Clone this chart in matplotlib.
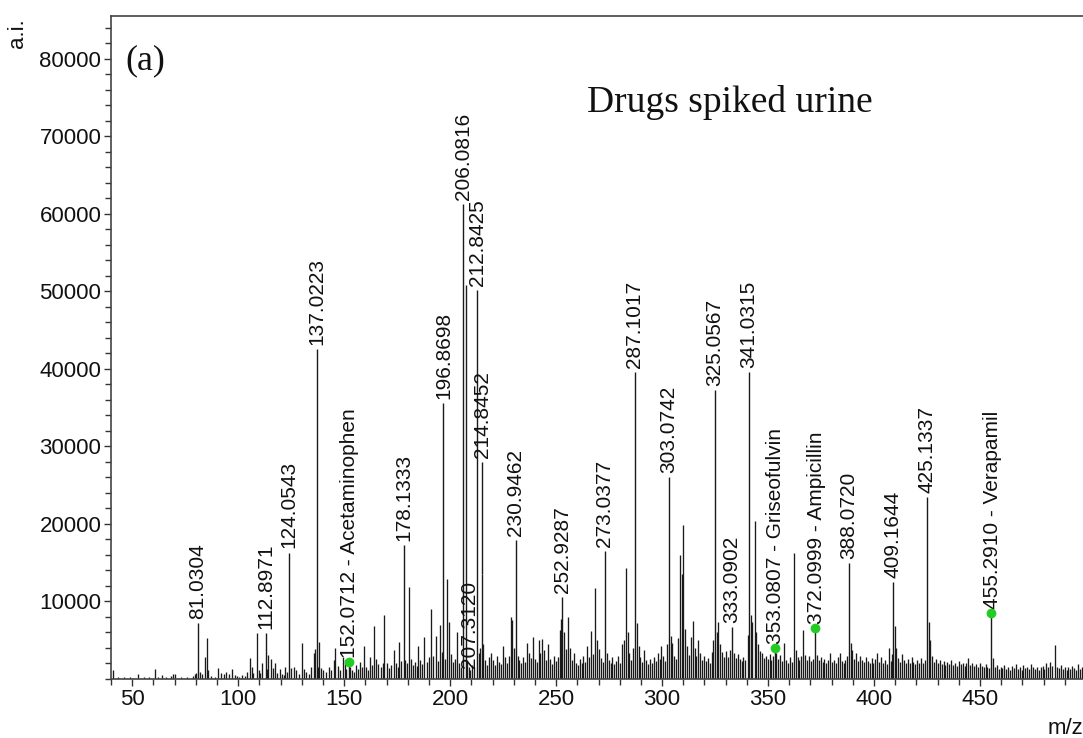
import matplotlib.pyplot as plt
from matplotlib.ticker import MultipleLocator

# labelled peaks (m/z, intensity in a.i.)
peak_mz = [81.0304, 112.8971, 124.0543, 137.0223, 178.1333, 196.8698, 206.0816,
           212.8425, 230.9462, 252.9287, 273.0377, 287.1017, 303.0742, 325.0567,
           333.0902, 341.0315, 388.0720, 409.1644, 425.1337]
peak_int = [7200, 5900, 16300, 42500, 17300, 35600, 61200,
            50200, 17900, 10600, 16500, 39600, 26000, 37300,
            6700, 39600, 15000, 12500, 23500]

# peaks whose label is placed away from the peak top
offset_mz = [207.3120, 214.8452]
offset_int = [50800, 13500]
offset_label_at = [1400, 28000]

# identified drugs (green dots)
drug_mz = [152.0712, 353.0807, 372.0999, 455.2910]
drug_int = [2200, 4000, 6600, 8500]
drug_names = ['Acetaminophen', 'Griseofulvin', 'Ampicillin', 'Verapamil']

# unlabelled peaks
minor_mz = [
    40.8, 43.5, 46.0, 49.0, 52.8, 55.5, 58.0, 60.6, 62.0, 64.2, 66.0, 68.4, 69.3, 70.2, 73.0, 76.0, 78.5, 79.6,
    80.3, 82.0, 83.0, 84.3, 85.1, 85.6, 87.0, 89.0, 90.6, 91.7, 93.2, 94.4, 95.6, 97.1, 98.3, 99.4,
    100.5, 101.8, 103.0, 104.2, 105.6, 106.3, 107.2, 108.8, 109.7, 110.4, 111.3, 113.6, 114.3, 115.4,
    116.3, 117.4, 118.4, 119.5, 120.6, 121.4, 122.2, 123.1, 125.1, 126.2, 127.4, 128.5, 129.9, 131.1,
    132.1, 133.3, 134.5, 135.8, 136.4, 137.5, 138.1, 139.1, 140.1, 141.3, 142.7, 143.9, 145.1, 145.9,
    147.0, 148.2, 149.5, 150.3, 151.0,
    152.9, 153.8, 154.7, 155.6, 156.4, 157.4, 158.3, 159.5, 160.5, 161.4, 162.3, 163.2, 164.3, 165.2,
    166.1, 167.2, 168.1, 169.0, 170.0, 171.1, 172.0, 173.7, 174.5, 175.3, 176.1, 177.0, 178.8, 179.7,
    180.6, 181.5, 182.4, 183.3, 184.2, 185.0, 186.0, 186.8, 187.9, 189.0, 190.0, 191.2, 192.1, 193.5,
    194.4, 195.4, 196.2, 197.6, 198.7, 199.6, 200.6, 201.5, 202.4, 203.4, 204.3, 205.2,
    207.9, 208.8, 209.6, 210.5, 211.4, 213.6, 214.2, 215.6, 216.5, 217.4, 218.3, 219.2, 220.1, 221.0,
    222.3, 223.2, 224.1, 225.0, 225.9, 226.8, 227.6, 228.5, 229.4, 230.2, 231.8, 232.7, 233.5, 234.4,
    235.3, 236.2, 237.1, 238.0, 239.0, 239.9, 240.8, 241.7, 242.6, 243.5, 244.4, 245.3, 246.2, 247.1,
    248.0, 248.9, 249.8, 250.7, 251.6, 252.3,
    253.6, 254.5, 255.7, 256.6, 257.5, 258.4, 259.3, 260.2, 261.1, 262.0, 262.9, 263.8, 264.7, 265.6,
    266.6, 267.5, 268.5, 269.3, 270.2, 271.1, 272.0, 273.9, 274.8, 275.7, 276.6, 277.5, 278.4, 279.3,
    280.2, 281.1, 281.9, 282.8, 283.7, 284.6, 285.5, 286.4, 288.0, 288.9, 289.8, 290.7, 291.6, 292.5,
    293.4, 294.3, 295.2, 296.1, 297.0, 297.9, 298.8, 299.7,
    300.6, 301.5, 302.3, 304.0, 304.9, 305.8, 306.7, 307.6, 308.6, 309.5, 310.1, 310.9, 311.8, 312.7,
    313.6, 314.4, 315.3, 316.2, 317.1, 318.0, 318.9, 319.8, 320.7, 321.6, 322.5, 323.4, 324.2, 325.9,
    326.6, 327.5, 328.4, 329.3, 330.2, 331.1, 332.0, 333.9, 334.8, 335.7, 336.6, 337.5, 338.4, 339.3,
    340.3, 341.8, 342.5, 343.6, 344.4, 345.3, 346.2, 347.1, 348.0, 348.9, 349.8,
    350.7, 351.6, 352.4, 353.9, 354.8, 355.7, 356.6, 357.5, 358.4, 359.3, 360.2, 361.1, 362.1, 363.0,
    363.9, 364.8, 365.7, 366.7, 367.6, 368.5, 369.4, 370.3, 371.2, 373.0, 373.9, 374.8, 375.7, 376.6,
    377.5, 378.4, 379.3, 380.2, 381.1, 382.0, 382.9, 383.8, 384.7, 385.6, 386.5, 387.3, 388.9, 389.8,
    390.7, 391.6, 392.5, 393.4, 394.3, 395.2, 396.1, 397.0, 397.9, 398.8, 399.7,
    400.6, 401.5, 402.4, 403.3, 404.2, 405.1, 406.0, 406.9, 407.8, 408.5, 409.8, 410.5, 411.4, 412.3,
    413.2, 414.1, 415.0, 415.9, 416.8, 417.7, 418.6, 419.5, 420.4, 421.3, 422.2, 423.1, 424.0, 425.8,
    426.5, 427.4, 428.3, 429.2, 430.1, 431.0, 431.9, 432.8, 433.7, 434.6, 435.5, 436.4, 437.3, 438.2,
    439.1, 440.0, 440.9, 441.8, 442.7, 443.6, 444.5, 445.4, 446.3, 447.2, 448.1, 449.0, 449.9,
    450.8, 451.7, 452.6, 453.5, 454.4, 456.1, 457.0, 457.9, 458.8, 459.7, 460.6, 461.5, 462.4, 463.3,
    464.2, 465.1, 466.0, 466.9, 467.8, 468.7, 469.6, 470.5, 471.4, 472.3, 473.2, 474.1, 475.0, 475.9,
    476.8, 477.7, 478.6, 479.5, 480.4, 481.3, 482.2, 483.1, 484.0, 485.4, 486.3, 487.2, 488.1, 489.0,
    489.9, 490.8, 491.7, 492.6, 493.5, 494.4, 495.3, 496.2, 497.1, 498.0, 498.9, 499.8,
]
minor_int = [
    1200, 250, 300, 200, 650, 200, 250, 1300, 200, 550, 200, 450, 600, 650, 200, 250, 400, 600,
    800, 900, 700, 2800, 5300, 1200, 400, 300, 1400, 800, 600, 900, 700, 1300, 500, 400,
    300, 500, 400, 900, 2700, 1600, 800, 5900, 1200, 800, 2000, 1300, 3100, 2600,
    1400, 2000, 800, 1300, 700, 500, 1600, 900, 1400, 1500, 1100, 700, 4600, 1300,
    900, 600, 1500, 3300, 3900, 1600, 4800, 1400, 1200, 900, 1500, 1200, 2400, 4000,
    1700, 1100, 2800, 2500, 1300,
    1500, 1100, 900, 1800, 1300, 2200, 1600, 4200, 1500, 1200, 2800, 1800, 6800, 2600,
    1900, 1500, 2000, 8200, 2100, 1400, 1800, 3700, 2000, 1600, 4800, 2300, 2500, 2000,
    11800, 2600, 1800, 2200, 1700, 4300, 2400, 1900, 5400, 2200, 2800, 9000, 3000, 5600,
    2300, 7000, 3500, 2600, 12900, 7300, 3200, 2200, 2600, 6000, 2100, 1500,
    2400, 1600, 1200, 1800, 1500, 3300, 4000, 4500, 2500, 1800, 2900, 3300, 2400, 1800,
    3000, 2200, 1900, 4300, 2800, 2000, 3000, 8000, 7600, 4000, 3000, 2500, 2100, 2800,
    2200, 4700, 3300, 2700, 5400, 2600, 2200, 5000, 3300, 5200, 3700, 2400, 4500, 2600,
    1900, 3000, 2300, 2800, 6300, 7800,
    6000, 3900, 8000, 4000, 2400, 3300, 2100, 1800, 2600, 2000, 3000, 2200, 4300, 2800,
    6200, 3200, 11700, 5000, 3900, 2700, 2200, 3400, 2500, 2000, 2800, 1900, 2300, 3000,
    2100, 4500, 5000, 14300, 6000, 3400, 2500, 4000, 7200, 4200, 2800, 2200, 3800, 2500,
    1900, 2600, 2000, 2900, 2300, 3300, 2600, 4200,
    3000, 2300, 4500, 5500, 4600, 3000, 2600, 5300, 16000, 13500, 19800, 6500, 4200, 3100,
    5400, 7500, 4000, 3000, 5000, 3300, 2500, 3000, 2300, 2700, 2100, 3500, 5000, 6000,
    7300, 4500, 3500, 2800, 3600, 2900, 3700, 3300, 2700, 3200, 2600, 2300, 2900, 2400,
    5700, 8300, 7400, 20400, 6000, 4500, 3600, 3300, 2700, 3000, 2600,
    3200, 2500, 3000, 3300, 2600, 3100, 2300, 4600, 2500, 2100, 2800, 2200, 16300, 3800,
    2900, 2500, 3000, 6300, 3100, 2400, 3000, 2300, 2600, 3100, 2400, 2900, 2200, 2600,
    2000, 2400, 3300, 2200, 2500, 2000, 2900, 3400, 2300, 2100, 2500, 3000, 4600, 3700,
    2600, 3400, 2300, 3000, 2500, 2200, 2800, 2300, 2000, 2700, 2100,
    2600, 3300, 2200, 2800, 2000, 2500, 1900, 4000, 2300, 3200, 6800, 4000, 2700, 2200,
    3200, 2400, 2000, 2600, 2100, 2900, 2200, 1900, 2400, 2000, 2700, 2100, 2500, 7400,
    5000, 3000, 2200, 2600, 2000, 2400, 1900, 2300, 1800, 2200, 1900, 2500, 1800, 2100,
    1700, 2300, 1900, 2100, 1700, 2000, 2700, 1800, 2100, 1700, 1900, 1600, 2000,
    1700, 1500, 1900, 1600, 1400, 2700, 1500, 1800, 1300, 1600, 1400, 1800, 1300, 1500,
    1200, 1700, 1400, 1900, 1300, 1600, 1200, 1800, 1400, 1500, 1300, 1900, 1500, 1300,
    1600, 1200, 1500, 1700, 1300, 2000, 1500, 2200, 1700, 4400, 1600, 1400, 1800, 1300,
    1600, 1200, 1500, 1300, 1700, 1400, 1200, 1900, 1300, 1500, 1200, 1600,
]

fig = plt.figure(figsize=(10.83, 7.38), dpi=100)
ax = fig.add_axes([111 / 1083, 59 / 738, 975 / 1083, 663 / 738])

line_col = '#1a1a1a'
ax.vlines(minor_mz, 0, minor_int, color=line_col, lw=0.95)
ax.vlines(peak_mz, 0, peak_int, color=line_col, lw=1.0)
ax.vlines(offset_mz, 0, offset_int, color=line_col, lw=1.0)
ax.vlines(drug_mz, 0, drug_int, color=line_col, lw=1.0)

lab_font = dict(family='Liberation Sans', size=15, color='#111111')
for mz, it in zip(peak_mz, peak_int):
    ax.annotate(f'{mz:.4f}', (mz, it), xytext=(0, 3), textcoords='offset points',
                rotation=90, ha='center', va='bottom', **lab_font)

# labels moved away from their peaks
ax.annotate(f'{offset_mz[0]:.4f}', (offset_mz[0], offset_label_at[0]), xytext=(3, 0),
            textcoords='offset points', rotation=90, ha='center', va='bottom', **lab_font)
ax.vlines(offset_mz[1], offset_int[1], offset_label_at[1], color=line_col, lw=1.0)
ax.annotate(f'{offset_mz[1]:.4f}', (offset_mz[1], offset_label_at[1]), xytext=(1, 3),
            textcoords='offset points', rotation=90, ha='center', va='bottom', **lab_font)

ax.plot(drug_mz, drug_int, 'o', color='#22cc22', ms=6, zorder=5)
for mz, it, name in zip(drug_mz, drug_int, drug_names):
    ax.annotate(f'{mz:.4f} - {name}', (mz, it), xytext=(1, 3), textcoords='offset points',
                rotation=90, ha='center', va='bottom', **lab_font)

ax.set_xlim(40, 500)
ax.set_ylim(0, 85500)
ax.set_xticks(range(50, 451, 50))
ax.set_yticks(range(10000, 80001, 10000))
ax.xaxis.set_minor_locator(MultipleLocator(10))
ax.yaxis.set_minor_locator(MultipleLocator(2000))
ax.tick_params(which='both', direction='out', colors='#333333', labelcolor='#111111',
               labelsize=16, width=1)
ax.tick_params(which='major', length=5, pad=2)
ax.tick_params(which='minor', length=4)
for lab in ax.get_xticklabels() + ax.get_yticklabels():
    lab.set_family('Liberation Sans')
ax.spines['right'].set_visible(False)
for s in ['left', 'top', 'bottom']:
    ax.spines[s].set_color('#444444')
    ax.spines[s].set_linewidth(1.2)

fig.text(18 / 1083, 1 - 33 / 738, 'a.i.', rotation=90, ha='center', va='center',
         family='Liberation Sans', size=16, color='#111111')
fig.text(1048 / 1083, 1 - 728 / 738, 'm/z', ha='left', va='center',
         family='Liberation Sans', size=16, color='#111111')
fig.text(145 / 1083, 1 - 61 / 738, '(a)', ha='center', va='center',
         family='Liberation Serif', size=26, color='#111111')
fig.text(730 / 1083, 1 - 103 / 738, 'Drugs spiked urine', ha='center', va='center',
         family='Liberation Serif', size=27, color='#111111')

fig.savefig('out.png', dpi=100)
